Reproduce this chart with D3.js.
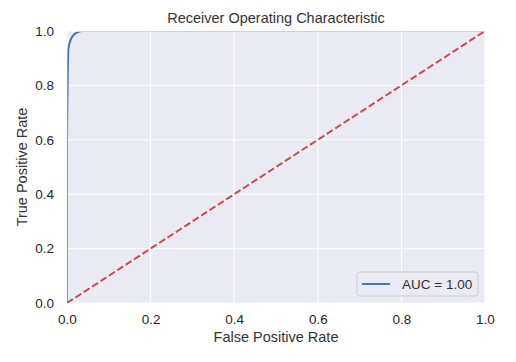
<!DOCTYPE html>
<html>
<head>
<meta charset="utf-8">
<script src="https://cdn.jsdelivr.net/npm/d3@7"></script>
<style>
  body { margin: 0; background: #fff; }
  text { font-family: "Liberation Sans", Arial, sans-serif; fill: #262626; }
</style>
</head>
<body>
<div id="chart"></div>
<script>
// roc curve points
const fpr = [0, 0, 0.001, 0.002, 0.003, 0.005, 0.008, 0.011, 0.014, 0.017, 0.021, 0.026, 0.031, 0.036, 0.05, 0.2, 0.5, 1]
const tpr = [0, 0.6, 0.75, 0.86, 0.93, 0.95, 0.965, 0.975, 0.982, 0.987, 0.992, 0.996, 0.999, 1, 1, 1, 1, 1]
const chance = [0, 1]
const ticks = [0, 0.2, 0.4, 0.6, 0.8, 1.0]
const legendLabel = 'AUC = 1.00'

const width = 516, height = 362
const margin = { top: 31, right: 31, bottom: 59, left: 67 }
const w = width - margin.left - margin.right
const h = height - margin.top - margin.bottom

const svg = d3.select('#chart').append('svg')
    .attr('width', width)
    .attr('height', height)

const x = d3.scaleLinear().domain([0, 1]).range([0, w])
const y = d3.scaleLinear().domain([0, 1]).range([h, 0])

const g = svg.append('g')
    .attr('transform', 'translate(' + margin.left + ',' + margin.top + ')')

g.append('rect')
    .attr('width', w)
    .attr('height', h)
    .attr('fill', '#eaeaf2')

// the line at tpr = 1 sits on the frame edge and is mostly clipped away
g.append('clipPath').attr('id', 'clip')
    .append('rect').attr('x', 0.3).attr('y', 0.8).attr('width', w).attr('height', h)

// grid
g.selectAll('.gx').data(ticks).enter().append('line')
    .attr('x1', d => x(d)).attr('x2', d => x(d))
    .attr('y1', 0).attr('y2', h)
    .attr('stroke', '#fff').attr('stroke-width', 1)
g.selectAll('.gy').data(ticks).enter().append('line')
    .attr('y1', d => y(d)).attr('y2', d => y(d))
    .attr('x1', 0).attr('x2', w)
    .attr('stroke', '#fff').attr('stroke-width', 1)

const plot = g.append('g').attr('clip-path', 'url(#clip)')

const line = d3.line()
    .x(d => x(d[0]))
    .y(d => y(d[1]))

plot.append('path')
    .datum(fpr.map((f, i) => [f, tpr[i]]))
    .attr('d', line)
    .attr('fill', 'none')
    .attr('stroke', '#4c72b0')
    .attr('stroke-width', 2)

plot.append('path')
    .datum(chance.map(d => [d, d]))
    .attr('d', line)
    .attr('fill', 'none')
    .attr('stroke', '#c44e52')
    .attr('stroke-width', 2)
    .attr('stroke-dasharray', '7,3')

// axes
const xAxis = g.append('g')
    .attr('transform', 'translate(0,' + h + ')')
    .call(d3.axisBottom(x).tickValues(ticks).tickFormat(d3.format('.1f')).tickSize(0).tickPadding(11))
const yAxis = g.append('g')
    .call(d3.axisLeft(y).tickValues(ticks).tickFormat(d3.format('.1f')).tickSize(0).tickPadding(13))
;[xAxis, yAxis].forEach(a => {
    a.select('.domain').remove()
    a.selectAll('text').attr('font-size', 13.5).attr('fill', '#4d4d4d')
        .style('font-family', '"Liberation Sans", Arial, sans-serif')
})

svg.append('text')
    .attr('x', margin.left + w / 2).attr('y', 23)
    .attr('text-anchor', 'middle')
    .attr('font-size', 14.5)
    .style('fill', '#333')
    .text('Receiver Operating Characteristic')

svg.append('text')
    .attr('x', margin.left + w / 2).attr('y', 342)
    .attr('text-anchor', 'middle')
    .attr('font-size', 14.5)
    .style('fill', '#333')
    .text('False Positive Rate')

svg.append('text')
    .attr('transform', 'translate(27,' + (margin.top + h / 2) + ')rotate(-90)')
    .attr('text-anchor', 'middle')
    .attr('font-size', 14.5)
    .style('fill', '#333')
    .text('True Positive Rate')

// legend
const lg = g.append('g')
    .attr('transform', 'translate(' + (w - 128) + ',' + (h - 31) + ')')
lg.append('rect')
    .attr('width', 121).attr('height', 24)
    .attr('rx', 3)
    .attr('fill', '#eaeaf2').attr('fill-opacity', 0.8)
    .attr('stroke', '#cccccc')
lg.append('line')
    .attr('x1', 5).attr('x2', 33)
    .attr('y1', 12).attr('y2', 12)
    .attr('stroke', '#4c72b0').attr('stroke-width', 2)
lg.append('text')
    .attr('x', 45).attr('y', 17)
    .attr('font-size', 13.5)
    .style('fill', '#333')
    .text(legendLabel)
</script>
</body>
</html>
